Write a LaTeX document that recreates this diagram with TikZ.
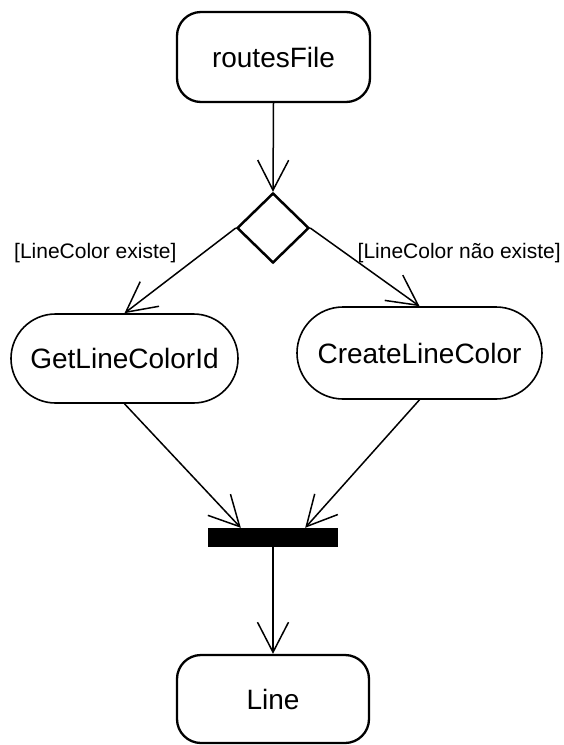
\documentclass[tikz,border=0pt]{standalone}
\usepackage{fontspec}
\setmainfont{Liberation Sans}
\usetikzlibrary{arrows.meta,shapes.misc,shapes.geometric}

\tikzset{
  x=1pt, y=-1pt,
  statebox/.style={draw, line width=2.3pt, rectangle, rounded corners=24pt,
    inner sep=0pt, font=\fontsize{28}{32}\selectfont},
  actionbox/.style={draw, line width=1.6pt, rounded rectangle,
    inner sep=0pt, font=\fontsize{28}{32}\selectfont},
  decisionnode/.style={draw, line width=2.5pt, diamond, inner sep=0pt,
    minimum width=72pt, minimum height=70pt},
  joinbar/.style={fill=black, rectangle, inner sep=0pt,
    minimum width=130pt, minimum height=19pt},
  flow/.style={line width=1.5pt, -{Straight Barb[length=30pt,width=31pt,line width=1.5pt]}},
  guard/.style={font=\fontsize{21}{24}\selectfont, inner sep=0pt}
}

\begin{document}
\begin{tikzpicture}
  \useasboundingbox (0,0) rectangle (564,745);

  % nodes
  \node[statebox, minimum width=193pt, minimum height=90pt] (routes) at (273.5,57) {routesFile};
  \node[decisionnode] (dec) at (273,228) {};
  \node[actionbox, minimum width=227pt, minimum height=89pt] (getid) at (124.5,358.5) {GetLineColorId};
  \node[actionbox, minimum width=245pt, minimum height=92pt] (create) at (419.5,353) {CreateLineColor};
  \node[joinbar] (bar) at (273,537.5) {};
  \node[statebox, minimum width=192pt, minimum height=88pt] (line) at (273,699) {Line};

  % guard labels
  \node[guard, anchor=west] (gyes) at (14,253) {[LineColor existe]};
  \node[guard, anchor=east] (gno) at (561,253) {[LineColor não existe]};

  % join points on the bar
  \coordinate (barl) at ([xshift=33pt]bar.north west);
  \coordinate (barr) at ([xshift=-33pt]bar.north east);

  % connectors
  \draw[flow] (routes.south) -- (dec.north);
  \draw[flow] (dec.west) -- (getid.north);
  \draw[flow] (dec.east) -- (create.north);
  \draw[flow] (getid.south) -- (barl);
  \draw[flow] (create.south) -- (barr);
  \draw[flow] (bar.south) -- (line.north);
\end{tikzpicture}
\end{document}
